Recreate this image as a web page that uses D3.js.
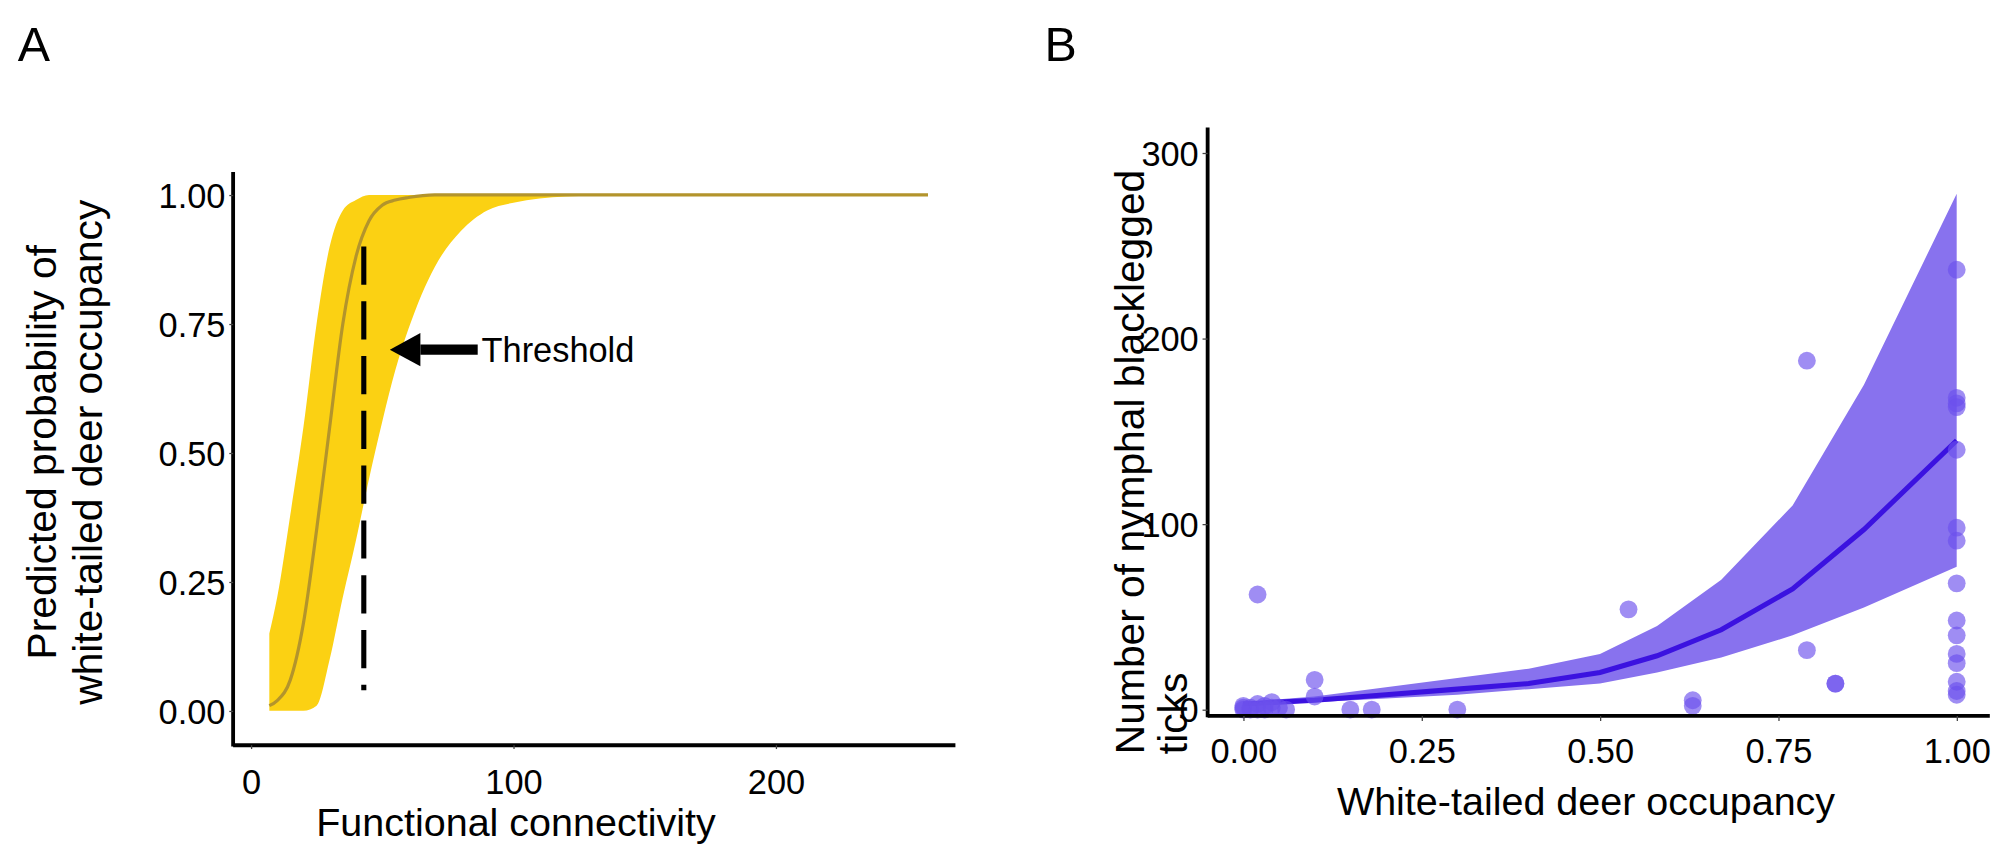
<!DOCTYPE html>
<html>
<head>
<meta charset="utf-8">
<script src="https://cdn.jsdelivr.net/npm/d3@7"></script>
<style>
  body { margin: 0; background: #fff; }
  text { font-family: "Liberation Sans", Arial, sans-serif; fill: #000; }
</style>
</head>
<body>
<svg id="chart" width="2000" height="861"></svg>
<script>
// Panel A: predicted occupancy vs functional connectivity
const connX = [7, 10, 15, 20, 25, 30, 35, 40, 45, 50, 55, 60, 70, 80, 90, 100, 120, 140, 160, 200, 258];
const occMean = [0.01, 0.02, 0.06, 0.17, 0.35, 0.55, 0.75, 0.88, 0.95, 0.98, 0.99, 0.995, 1, 1, 1, 1, 1, 1, 1, 1, 1];
const occUpper = [0.15, 0.22, 0.38, 0.55, 0.75, 0.9, 0.97, 0.99, 1, 1, 1, 1, 1, 1, 1, 1, 1, 1, 1, 1, 1];
const occLower = [0, 0, 0, 0, 0.01, 0.1, 0.22, 0.33, 0.45, 0.56, 0.66, 0.74, 0.86, 0.93, 0.97, 0.985, 0.997, 1, 1, 1, 1];
const threshold = 43;
const ticksA_x = [0, 100, 200];
const ticksA_y = [0, 0.25, 0.5, 0.75, 1];

// Panel B: nymph counts vs deer occupancy
const occX = [0, 0.1, 0.2, 0.3, 0.4, 0.5, 0.58, 0.67, 0.77, 0.87, 1.0];
const tickMean = [3, 5, 8, 11, 14, 20, 29, 43, 65, 97, 145];
const tickUpper = [4, 7, 12, 17, 22, 30, 45, 70, 110, 175, 278];
const tickLower = [2, 4, 6, 8, 11, 14, 20, 28, 40, 55, 77];
const pointOcc = [0.02, 0, 0, 0, 0.01, 0.01, 0.02, 0.02, 0.03, 0.03, 0.04, 0.04, 0.05, 0.06, 0.1, 0.1, 0.15, 0.18, 0.3,
  0.54, 0.63, 0.63, 0.79, 0.79, 0.83, 0.83, 1, 1, 1, 1, 1, 1, 1, 1, 1, 1, 1, 1, 1, 1, 1];
const pointTicks = [62, 0, 1, 2, 0, 1, 3, 0, 2, 0, 4, 1, 1, 0, 16, 7, 0, 0, 0,
  54, 5, 2, 188, 32, 14, 14, 237, 168, 165, 163, 140, 98, 91, 68, 48, 40, 30, 25, 15, 10, 8];
const ticksB_x = [0, 0.25, 0.5, 0.75, 1];
const ticksB_y = [0, 100, 200, 300];

// layout was measured on a 1570-wide view; scale up to 2000
const svg = d3.select("#chart").append("g").attr("transform", `scale(${2000 / 1570})`);

// ---------- Panel A ----------
const xA = d3.scaleLinear([0, 200], [197, 609]);
const yA = d3.scaleLinear([0, 1], [558, 153]);
const gA = svg.append("g");

gA.append("path")
  .attr("fill", "#FBD113")
  .attr("d", d3.area().curve(d3.curveMonotoneX)
    .x((d, i) => xA(connX[i])).y0((d, i) => yA(occLower[i])).y1(d => yA(d))(occUpper));

gA.append("path")
  .attr("fill", "none").attr("stroke", "#B3942C").attr("stroke-width", 2.5)
  .attr("d", d3.line().curve(d3.curveMonotoneX)
    .x((d, i) => xA(connX[i])).y(d => yA(d))(occMean));

gA.append("line")
  .attr("x1", xA(threshold)).attr("x2", xA(threshold))
  .attr("y1", yA(0.9)).attr("y2", yA(0.04))
  .attr("stroke", "#000").attr("stroke-width", 4).attr("stroke-dasharray", "30 13");

// arrow
gA.append("line").attr("x1", 375).attr("x2", 330).attr("y1", yA(0.7)).attr("y2", yA(0.7))
  .attr("stroke", "#000").attr("stroke-width", 8);
gA.append("path").attr("fill", "#000")
  .attr("d", `M306,${yA(0.7)} L330,${yA(0.7) - 13} L330,${yA(0.7) + 13} Z`);
gA.append("text").attr("x", 378).attr("y", yA(0.7) + 10).attr("font-size", 27).text("Threshold");

const axA_x = gA.append("g").attr("transform", "translate(0,585)")
  .call(d3.axisBottom(xA).tickValues(ticksA_x).tickSize(3).tickFormat(d3.format("d")));
axA_x.select(".domain").attr("d", "M183,0H750").attr("stroke-width", 3);
axA_x.selectAll("text").attr("font-size", 27).attr("dy", "1.2em");
axA_x.selectAll(".tick line").attr("stroke", "#444");

const axA_y = gA.append("g").attr("transform", "translate(183,0)")
  .call(d3.axisLeft(yA).tickValues(ticksA_y).tickSize(3).tickFormat(d3.format(".2f")));
axA_y.select(".domain").attr("d", "M0,135V586").attr("stroke-width", 3);
axA_y.selectAll("text").attr("font-size", 27).attr("dy", "0.35em");
axA_y.selectAll(".tick line").attr("stroke", "#444");

gA.append("text").attr("x", 405).attr("y", 656).attr("text-anchor", "middle").attr("font-size", 31)
  .text("Functional connectivity");
gA.append("text").attr("transform", "translate(44,355) rotate(-90)").attr("text-anchor", "middle")
  .attr("font-size", 32).text("Predicted probability of");
gA.append("text").attr("transform", "translate(80,355) rotate(-90)").attr("text-anchor", "middle")
  .attr("font-size", 32).text("white-tailed deer occupancy");
gA.append("text").attr("x", 14).attr("y", 48).attr("font-size", 38).text("A");

// ---------- Panel B ----------
const xB = d3.scaleLinear([0, 1], [976, 1536]);
const yB = d3.scaleLinear([0, 300], [557, 120]);
const gB = svg.append("g");

gB.append("path")
  .attr("fill", "#8872EE")
  .attr("d", d3.area().x((d, i) => xB(occX[i])).y0((d, i) => yB(tickLower[i])).y1(d => yB(d))(tickUpper));

gB.append("path")
  .attr("fill", "none").attr("stroke", "#3B12E0").attr("stroke-width", 4)
  .attr("d", d3.line().x((d, i) => xB(occX[i])).y(d => yB(d))(tickMean));

gB.selectAll("circle").data(pointOcc).join("circle")
  .attr("cx", d => xB(d)).attr("cy", (d, i) => yB(pointTicks[i])).attr("r", 7)
  .attr("fill", "#6C50EC").attr("fill-opacity", 0.65);

const axB_x = gB.append("g").attr("transform", "translate(0,562)")
  .call(d3.axisBottom(xB).tickValues(ticksB_x).tickSize(4).tickFormat(d3.format(".2f")));
axB_x.select(".domain").attr("d", "M948,0H1562").attr("stroke-width", 3);
axB_x.selectAll("text").attr("font-size", 27).attr("dy", "1.1em");
axB_x.selectAll(".tick line").attr("stroke", "#444");

const axB_y = gB.append("g").attr("transform", "translate(948,0)")
  .call(d3.axisLeft(yB).tickValues(ticksB_y).tickSize(4).tickFormat(d3.format("d")));
axB_y.select(".domain").attr("d", "M0,100V563").attr("stroke-width", 3);
axB_y.selectAll("text").attr("font-size", 27).attr("dy", "0.35em");
axB_y.selectAll(".tick line").attr("stroke", "#444");

gB.append("text").attr("x", 1245).attr("y", 640).attr("text-anchor", "middle").attr("font-size", 31)
  .text("White-tailed deer occupancy");
gB.append("text").attr("transform", "translate(898,592) rotate(-90)").attr("text-anchor", "start")
  .attr("font-size", 32).text("Number of nymphal blacklegged");
gB.append("text").attr("transform", "translate(932,592) rotate(-90)").attr("text-anchor", "start")
  .attr("font-size", 32).text("ticks");
gB.append("text").attr("x", 820).attr("y", 48).attr("font-size", 38).text("B");
</script>
</body>
</html>
